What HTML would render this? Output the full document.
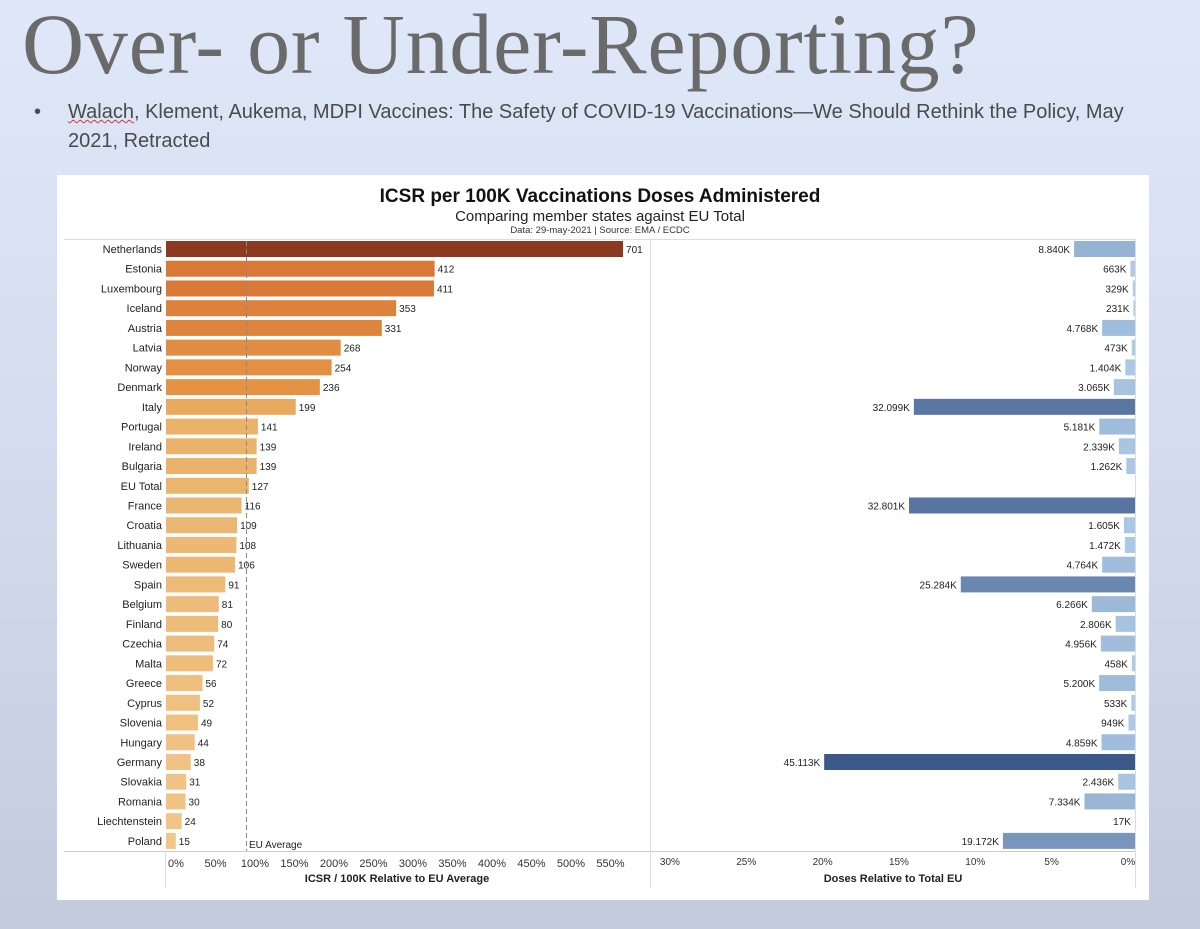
<!DOCTYPE html>
<html><head><meta charset="utf-8"><style>
html,body{margin:0;padding:0}
body{width:1200px;height:929px;overflow:hidden;background:linear-gradient(#dfe8f8,#d3dcee 50%,#c2cbdc);font-family:"Liberation Sans",sans-serif;position:relative}
#title{position:absolute;left:22px;top:-6px;font-family:"Liberation Serif",serif;font-size:86px;color:#6a6a6a;font-weight:normal;letter-spacing:0.8px;white-space:nowrap}
#bullet{position:absolute;left:34px;top:98px;font-size:20px;line-height:29px;color:#4a4a4a;width:1125px}
#bullet .dot{position:absolute;left:0;top:0}
#bullet .txt{margin-left:34px}
#chart{position:absolute;left:57px;top:175px;width:1092px;height:725px;background:#fff}
</style></head><body>
<div id="title">Over- or Under-Reporting?</div>
<div id="bullet"><span class="dot">•</span><div class="txt"><span style="text-decoration:underline wavy #d33;text-decoration-thickness:1px">Walach</span>, Klement, Aukema, MDPI Vaccines: The Safety of COVID-19 Vaccinations—We Should Rethink the Policy, May 2021, Retracted</div></div>
<div id="chart"></div>
<svg id="svg" width="1200" height="929" style="position:absolute;left:0;top:0"></svg>
<script>
const countries=["Netherlands","Estonia","Luxembourg","Iceland","Austria","Latvia","Norway","Denmark","Italy","Portugal","Ireland","Bulgaria","EU Total","France","Croatia","Lithuania","Sweden","Spain","Belgium","Finland","Czechia","Malta","Greece","Cyprus","Slovenia","Hungary","Germany","Slovakia","Romania","Liechtenstein","Poland"];
const icsr=[701,412,411,353,331,268,254,236,199,141,139,139,127,116,109,108,106,91,81,80,74,72,56,52,49,44,38,31,30,24,15];
const doses=[8840,663,329,231,4768,473,1404,3065,32099,5181,2339,1262,null,32801,1605,1472,4764,25284,6266,2806,4956,458,5200,533,949,4859,45113,2436,7334,17,19172];
const leftTicks=[0,50,100,150,200,250,300,350,400,450,500,550];
const rightTicks=[30,25,20,15,10,5,0];
const NS="http://www.w3.org/2000/svg";
const svg=document.getElementById('svg');
function el(t,a,txt){const e=document.createElementNS(NS,t);for(const k in a)e.setAttribute(k,a[k]);if(txt!=null)e.textContent=txt;svg.appendChild(e);return e;}
const xL=v=>166+v*0.652;
const xTick=p=>176+p*0.79;
const xR=v=>1135-v*0.00689;
const xRTick=p=>1128-p*15.27;
const yRow=i=>249+i*19.73;
function mix(a,b,t){return 'rgb('+a.map((c,i)=>Math.round(c+(b[i]-c)*t)).join(',')+')';}
function orange(v){const t=Math.min(1,v/701);if(t>0.8)return mix([205,100,45],[139,58,31],(t-0.8)/0.2);if(t>0.3)return mix([230,150,70],[205,100,45],(t-0.3)/0.5);return mix([242,200,140],[230,168,92],t/0.3);}
function blue(v){const t=Math.min(1,v/45113);return mix([176,206,232],[58,88,136],Math.pow(t,0.9));}
let e;
e=el('text',{x:600,y:202,'text-anchor':'middle','font-size':19,'font-weight':'bold',fill:'#111'},'ICSR per 100K Vaccinations Doses Administered');

e=el('text',{x:600,y:221,'text-anchor':'middle','font-size':15,fill:'#222'},'Comparing member states against EU Total');

e=el('text',{x:600,y:233,'text-anchor':'middle','font-size':9.5,fill:'#333'},'Data: 29-may-2021 | Source: EMA / ECDC');

e=el('line',{x1:64,x2:1135,y1:239.5,y2:239.5,stroke:'#ddd'});

e=el('line',{x1:64,x2:1135,y1:851.5,y2:851.5,stroke:'#ccc'});

e=el('line',{x1:165.5,x2:165.5,y1:851,y2:888,stroke:'#ddd'});

e=el('line',{x1:650.5,x2:650.5,y1:239,y2:888,stroke:'#ddd'});

e=el('line',{x1:1135.5,x2:1135.5,y1:239,y2:888,stroke:'#ddd'});

countries.forEach((c,i)=>{
 const y=yRow(i);
 let t=el('text',{x:162,y:y+4,'text-anchor':'end','font-size':11,fill:'#222'},c);
 
 let r=el('rect',{x:166,y:y-8,width:xL(icsr[i])-166,height:16,fill:orange(icsr[i])});
 
 let v=el('text',{x:xL(icsr[i])+3,y:y+4,'font-size':10,fill:'#222'},String(icsr[i]));
 
 if(doses[i]!=null){
  const d=doses[i];
  let b=el('rect',{x:xR(d),y:y-8,width:1135-xR(d),height:16,fill:blue(d)});
  
  const lab=d>=1000?(d/1000).toFixed(3)+'K':d+'K';
  let l=el('text',{x:xR(d)-4,y:y+4,'text-anchor':'end','font-size':10,fill:'#222'},lab);
  
 }
});
e=el('line',{x1:246.5,x2:246.5,y1:241,y2:851,stroke:'#888','stroke-dasharray':'5,3'});

e=el('text',{x:249,y:848,'font-size':10,fill:'#222'},'EU Average');

leftTicks.forEach(p=>{let t=el('text',{x:xTick(p),y:867,'text-anchor':'middle','font-size':11,fill:'#333'},p+'%');
 });
rightTicks.forEach(p=>{let t=el('text',{x:xRTick(p),y:865,'text-anchor':'middle','font-size':10,fill:'#333'},p+'%');
 });
e=el('text',{x:397,y:882,'text-anchor':'middle','font-size':11,'font-weight':'bold',fill:'#222'},'ICSR / 100K Relative to EU Average');

e=el('text',{x:893,y:882,'text-anchor':'middle','font-size':11,'font-weight':'bold',fill:'#222'},'Doses Relative to Total EU');

</script>
</body></html>
